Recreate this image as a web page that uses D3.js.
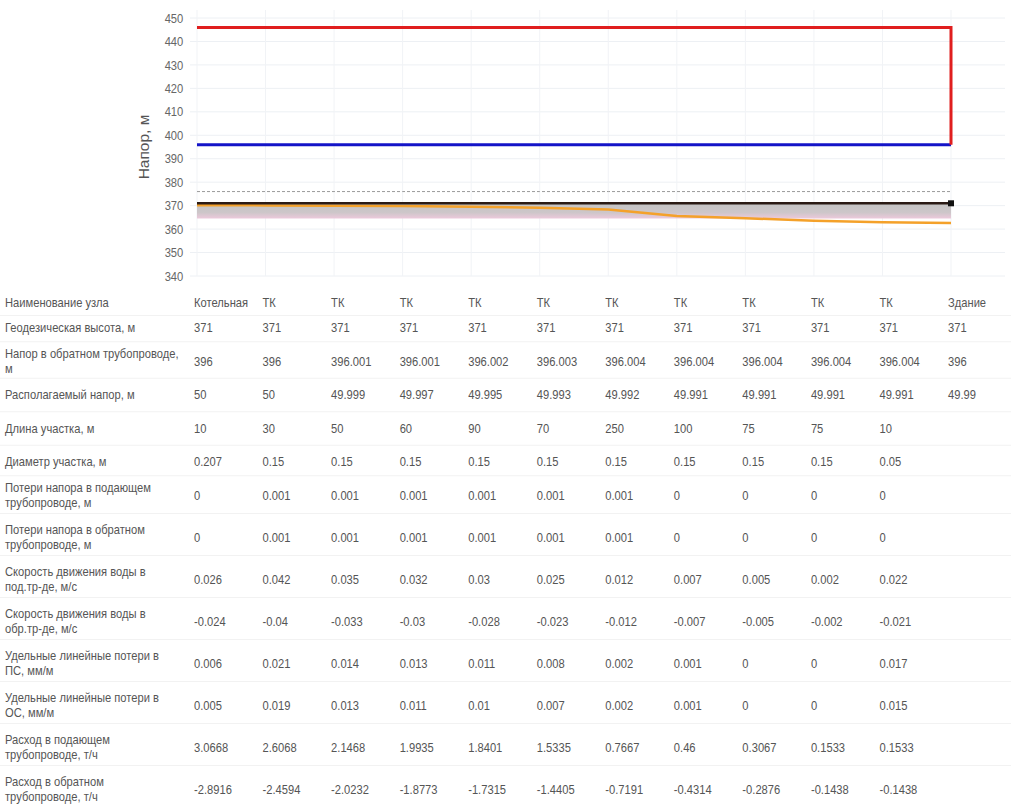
<!DOCTYPE html>
<html>
<head>
<meta charset="utf-8">
<script src="https://cdn.jsdelivr.net/npm/d3@7"></script>
<style>
  html, body { margin: 0; padding: 0; background: #fff; }
  svg { display: block; font-family: "Liberation Sans", Arial, sans-serif; }
</style>
</head>
<body>
<div id="chart"></div>
<script>
// node data
const nodeNames = ["Котельная", "ТК", "ТК", "ТК", "ТК", "ТК", "ТК", "ТК", "ТК", "ТК", "ТК", "Здание"];
const geoHeight = [371, 371, 371, 371, 371, 371, 371, 371, 371, 371, 371, 371];
const returnHead = [396, 396, 396.001, 396.001, 396.002, 396.003, 396.004, 396.004, 396.004, 396.004, 396.004, 396];
const availHead = [50, 50, 49.999, 49.997, 49.995, 49.993, 49.992, 49.991, 49.991, 49.991, 49.991, 49.99];
const sectionLength = [10, 30, 50, 60, 90, 70, 250, 100, 75, 75, 10];
const sectionDiameter = [0.207, 0.15, 0.15, 0.15, 0.15, 0.15, 0.15, 0.15, 0.15, 0.15, 0.05];
const lossSupply = [0, 0.001, 0.001, 0.001, 0.001, 0.001, 0.001, 0, 0, 0, 0];
const lossReturn = [0, 0.001, 0.001, 0.001, 0.001, 0.001, 0.001, 0, 0, 0, 0];
const speedSupply = [0.026, 0.042, 0.035, 0.032, 0.03, 0.025, 0.012, 0.007, 0.005, 0.002, 0.022];
const speedReturn = [-0.024, -0.04, -0.033, -0.03, -0.028, -0.023, -0.012, -0.007, -0.005, -0.002, -0.021];
const specLossSupply = [0.006, 0.021, 0.014, 0.013, 0.011, 0.008, 0.002, 0.001, 0, 0, 0.017];
const specLossReturn = [0.005, 0.019, 0.013, 0.011, 0.01, 0.007, 0.002, 0.001, 0, 0, 0.015];
const flowSupply = [3.0668, 2.6068, 2.1468, 1.9935, 1.8401, 1.5335, 0.7667, 0.46, 0.3067, 0.1533, 0.1533];
const flowReturn = [-2.8916, -2.4594, -2.0232, -1.8773, -1.7315, -1.4405, -0.7191, -0.4314, -0.2876, -0.1438, -0.1438];

// extra chart lines
const staticHead = [376, 376, 376, 376, 376, 376, 376, 376, 376, 376, 376, 376];
const pipeLevel = [370.2, 370.1, 370, 369.8, 369.5, 369.1, 368.4, 365.6, 364.6, 363.6, 362.9, 362.6];
const bandBottom = [364.5, 364.5, 364.5, 364.5, 364.5, 364.5, 364.5, 364.5, 364.5, 364.5, 364.5, 364.5];

const yTicks = [340, 350, 360, 370, 380, 390, 400, 410, 420, 430, 440, 450];

const rows = [
  { label: "Наименование узла", values: nodeNames },
  { label: "Геодезическая высота, м", values: geoHeight },
  { label: "Напор в обратном трубопроводе,\nм", values: returnHead },
  { label: "Располагаемый напор, м", values: availHead },
  { label: "Длина участка, м", values: sectionLength },
  { label: "Диаметр участка, м", values: sectionDiameter },
  { label: "Потери напора в подающем\nтрубопроводе, м", values: lossSupply },
  { label: "Потери напора в обратном\nтрубопроводе, м", values: lossReturn },
  { label: "Скорость движения воды в\nпод.тр-де, м/с", values: speedSupply },
  { label: "Скорость движения воды в\nобр.тр-де, м/с", values: speedReturn },
  { label: "Удельные линейные потери в\nПС, мм/м", values: specLossSupply },
  { label: "Удельные линейные потери в\nОС, мм/м", values: specLossReturn },
  { label: "Расход в подающем\nтрубопроводе, т/ч", values: flowSupply },
  { label: "Расход в обратном\nтрубопроводе, т/ч", values: flowReturn }
];

const width = 1011, height = 807;
const narrow = 0.86; // condensed look of the original font
const svg = d3.select("#chart").append("svg")
  .attr("width", width).attr("height", height);

const idx = d3.range(nodeNames.length);
const x = d3.scalePoint().domain(idx).range([197, 951]);
const y = d3.scaleLinear().domain([340, 450]).range([276, 18]);

// grid
const grid = svg.append("g");
grid.selectAll("line.h").data(yTicks).join("line")
  .attr("x1", 190).attr("x2", 1005)
  .attr("y1", d => y(d)).attr("y2", d => y(d))
  .attr("stroke", "#edf0f4").attr("stroke-width", 1);
grid.selectAll("line.v").data(idx).join("line")
  .attr("x1", d => x(d)).attr("x2", d => x(d))
  .attr("y1", 10).attr("y2", 276)
  .attr("stroke", "#f1f3f6").attr("stroke-width", 1);

// y axis
const yAxis = svg.append("g")
  .attr("transform", "translate(185,0)")
  .call(d3.axisLeft(y).tickValues(yTicks).tickSize(0).tickPadding(2));
yAxis.select(".domain").remove();
yAxis.selectAll("text")
  .attr("font-family", "Liberation Sans, Arial, sans-serif")
  .attr("font-size", 13).attr("fill", "#666")
  .attr("transform", `scale(${narrow},1)`);

svg.append("text")
  .attr("transform", "translate(149,147) rotate(-90)")
  .attr("text-anchor", "middle")
  .attr("font-size", 15.5).attr("fill", "#555")
  .text("Напор, м");

// shaded band under ground line
const defs = svg.append("defs");
const grad = defs.append("linearGradient").attr("id", "band")
  .attr("x1", 0).attr("x2", 0).attr("y1", 0).attr("y2", 1);
grad.append("stop").attr("offset", "0%").attr("stop-color", "#c4c4c4");
grad.append("stop").attr("offset", "60%").attr("stop-color", "#cdc6c9");
grad.append("stop").attr("offset", "100%").attr("stop-color", "#ecc9db");

svg.append("path")
  .datum(idx)
  .attr("fill", "url(#band)")
  .attr("d", d3.area().x(i => x(i)).y0(i => y(bandBottom[i])).y1(i => y(geoHeight[i])));

const line = d3.line().x(d => d[0]).y(d => d[1]);

// static head (dashed)
svg.append("path")
  .attr("d", line(idx.map(i => [x(i), y(staticHead[i])])))
  .attr("fill", "none").attr("stroke", "#9a9a9a").attr("stroke-width", 1)
  .attr("stroke-dasharray", "3,2");

// orange line
svg.append("path")
  .attr("d", line(idx.map(i => [x(i), y(pipeLevel[i])])))
  .attr("fill", "none").attr("stroke", "#f4a12a").attr("stroke-width", 2.5);

// ground line
svg.append("path")
  .attr("d", line(idx.map(i => [x(i), y(geoHeight[i])])))
  .attr("fill", "none").attr("stroke", "#2a1a14").attr("stroke-width", 2.5);
const last = idx[idx.length - 1];
svg.append("rect")
  .attr("x", x(last) - 3).attr("y", y(geoHeight[last]) - 3)
  .attr("width", 6).attr("height", 6).attr("fill", "#111");

// return head (blue)
svg.append("path")
  .attr("d", line(idx.map(i => [x(i), y(returnHead[i])])))
  .attr("fill", "none").attr("stroke", "#1414c8").attr("stroke-width", 3);

// supply head (red) + drop to return at the building
const supplyPts = idx.map(i => [x(i), y(returnHead[i] + availHead[i])]);
supplyPts.push([x(last), y(returnHead[last])]);
svg.append("path")
  .attr("d", line(supplyPts))
  .attr("fill", "none").attr("stroke", "#e01e1e").attr("stroke-width", 3);

// table
const lines = rows.map(r => r.label.split("\n").length);
const rowY = [];
rows.forEach((r, k) => {
  if (k === 0) rowY.push(303);
  else if (k === 1) rowY.push(rowY[0] + 25);
  else rowY.push(rowY[k - 1] + (lines[k] === 2 && lines[k - 1] === 2 ? 42 : 33.5));
});

const table = svg.append("g").attr("font-size", 13).attr("fill", "#555");

// faint row separators
table.selectAll("line.sep").data(rows.slice(1)).join("line")
  .attr("x1", 0).attr("x2", 1011)
  .attr("y1", (d, k) => (rowY[k] + rowY[k + 1]) / 2 + (lines[k + 1] === 2 ? -3 : 0))
  .attr("y2", (d, k) => (rowY[k] + rowY[k + 1]) / 2 + (lines[k + 1] === 2 ? -3 : 0))
  .attr("stroke", "#f2f2f2");

rows.forEach((r, k) => {
  const ls = r.label.split("\n");
  const t = table.append("text")
    .attr("transform", `translate(5,${rowY[k] + 4}) scale(${narrow},1)`);
  ls.forEach((s, j) => {
    t.append("tspan").attr("x", 0)
      .attr("y", (j - (ls.length - 1) / 2) * 15)
      .text(s);
  });
  table.selectAll(null).data(r.values).join("text")
    .attr("transform", (d, i) => `translate(${x(i) - 3},${rowY[k] + 4}) scale(${narrow},1)`)
    .text(d => d);
});
</script>
</body>
</html>
